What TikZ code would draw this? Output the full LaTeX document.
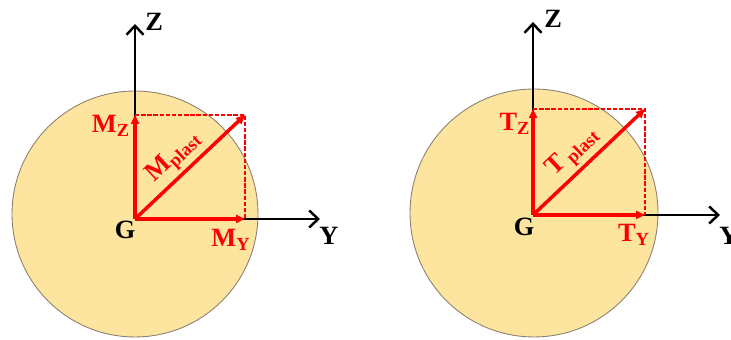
\documentclass[tikz,border=0pt]{standalone}
\usepackage{fontspec}
\setmainfont{Liberation Serif}
\usetikzlibrary{arrows.meta}
\definecolor{secfill}{HTML}{FDE5A0}
\definecolor{secedge}{HTML}{8C8070}
\definecolor{vecred}{HTML}{FF0000}
\tikzset{
  sect/.style={circle, draw=secedge, line width=0.5pt, fill=secfill, inner sep=0pt},
  axarr/.style={-{Straight Barb[length=1.8mm,width=3.4mm]}, line width=1.4pt, black},
  vecarr/.style={-{Triangle[length=1.8mm,width=1.6mm]}, line width=2pt, color=vecred},
  proj/.style={line width=0.6pt, color=vecred, dash pattern=on 2.5pt off 1pt},
  axlbl/.style={font=\fontsize{15}{17}\selectfont\bfseries, inner sep=0pt},
  veclbl/.style={axlbl, text=vecred},
}
\begin{document}
\begin{tikzpicture}[x=0.02cm, y=0.02cm]
  \useasboundingbox (0,0) rectangle (731,340);
  % plastic moment
  \node[sect, minimum size=4.92cm] (secM) at (135,126) {};
  \coordinate (gM) at (135,121);
  \coordinate (zM) at (135,316);
  \coordinate (yM) at (320,121);
  \coordinate (mzM) at (135,225);
  \coordinate (myM) at (245,121);
  \coordinate (cM) at (245,225);
  \draw[axarr] (gM) -- (zM);
  \draw[axarr] (gM) -- (yM);
  \draw[proj] (mzM) -| (myM);
  \draw[vecarr] (gM) -- (mzM);
  \draw[vecarr] (gM) -- (myM);
  \draw[vecarr] (gM) -- node[veclbl, pos=0.47, sloped, above=2pt] (lMp) {M\textsubscript{plast}} (cM);
  \node[axlbl, anchor=west] (lZM) at (145,318) {Z};
  \node[axlbl] (lYM) at (329,104) {Y};
  \node[axlbl] (lGM) at (125,110) {G};
  \node[veclbl] (lMz) at (111,214) {M\textsubscript{Z}};
  \node[veclbl] (lMy) at (231,100) {M\textsubscript{Y}};
  % plastic shear
  \node[sect, minimum size=4.96cm] (secT) at (534,127) {};
  \coordinate (gT) at (533,125);
  \coordinate (zT) at (533,318);
  \coordinate (yT) at (720,125);
  \coordinate (tzT) at (533,231);
  \coordinate (tyT) at (645,125);
  \coordinate (cT) at (645,231);
  \draw[axarr] (gT) -- (zT);
  \draw[axarr] (gT) -- (yT);
  \draw[proj] (tzT) -| (tyT);
  \draw[vecarr] (gT) -- (tzT);
  \draw[vecarr] (gT) -- (tyT);
  \draw[vecarr] (gT) -- node[veclbl, pos=0.47, sloped, above=2pt] (lTp) {T\,\textsubscript{plast}} (cT);
  \node[axlbl, anchor=west] (lZT) at (544,321) {Z};
  \node[axlbl] (lYT) at (729,104) {Y};
  \node[axlbl] (lGT) at (524,113) {G};
  \node[veclbl] (lTz) at (515,216) {T\textsubscript{Z}};
  \node[veclbl] (lTy) at (634,105) {T\textsubscript{Y}};
\end{tikzpicture}
\end{document}
